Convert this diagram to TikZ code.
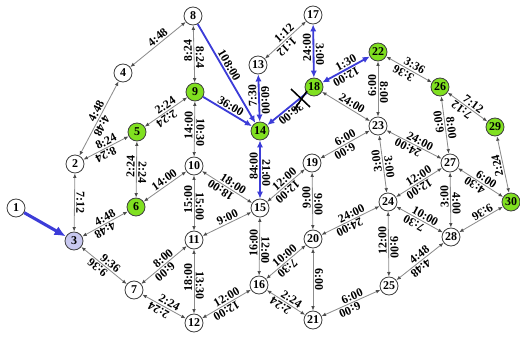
\documentclass[tikz,border=0pt]{standalone}
\usepackage{fontspec}
\setmainfont{Liberation Serif}
\usepackage{tikz}
\usetikzlibrary{arrows.meta}
\definecolor{hexcolor0x80e020}{rgb}{0.502,0.878,0.125}
\definecolor{hexcolor0xc8c8f0}{rgb}{0.784,0.784,0.941}
\definecolor{hexcolor0x3c3cd8}{rgb}{0.235,0.235,0.847}
\definecolor{hexcolor0x8c8c8c}{rgb}{0.549,0.549,0.549}
\definecolor{myblack}{rgb}{0.000,0.000,0.000}
\definecolor{mywhite}{rgb}{1.000,1.000,1.000}
\tikzstyle{stop}=[circle,fill=mywhite,draw=myblack!75,line width=0.6pt,minimum size=0.45cm,inner sep=0pt,font=\fontsize{8.5}{9}\selectfont\bfseries]
\tikzstyle{hub}=[stop,fill=hexcolor0x80e020]
\tikzstyle{origin}=[stop,fill=hexcolor0xc8c8f0]
\tikzstyle{road}=[draw=hexcolor0x8c8c8c,line width=0.6pt,<->,>={Latex[length=3.2pt,width=2.6pt,color=myblack!70]}]
\tikzstyle{route}=[draw=hexcolor0x3c3cd8,line width=1.3pt,>={Latex[length=5pt,width=4.5pt]}]
\tikzstyle{tfwd}=[above,sloped,allow upside down,pos=0.56,inner sep=1pt,font=\fontsize{8.5}{9}\selectfont\bfseries]
\tikzstyle{trev}=[tfwd,rotate=180,pos=0.44]

\begin{document}
\begin{tikzpicture}[x=0.025cm,y=-0.025cm]
	\useasboundingbox (0,0) rectangle (520,338);
	%\begin{pgfonlayer}{nodelayer}
		\node [style=stop] (1) at (16, 208) {1};
		\node [style=stop] (2) at (75, 164) {2};
		\node [style=origin] (3) at (74, 241) {3};
		\node [style=stop] (4) at (123, 73) {4};
		\node [style=hub] (5) at (137, 132) {5};
		\node [style=hub] (6) at (136, 207) {6};
		\node [style=stop] (7) at (134, 290) {7};
		\node [style=stop] (8) at (193, 16) {8};
		\node [style=hub] (9) at (195, 92) {9};
		\node [style=stop] (10) at (194, 166) {10};
		\node [style=stop] (11) at (194, 240) {11};
		\node [style=stop] (12) at (194, 323) {12};
		\node [style=stop] (13) at (258, 65) {13};
		\node [style=hub] (14) at (260, 131) {14};
		\node [style=stop] (15) at (260, 208) {15};
		\node [style=stop] (16) at (259, 285) {16};
		\node [style=stop] (17) at (313, 15) {17};
		\node [style=hub] (18) at (314, 87) {18};
		\node [style=stop] (19) at (312, 163) {19};
		\node [style=stop] (20) at (313, 239) {20};
		\node [style=stop] (21) at (313, 320) {21};
		\node [style=hub] (22) at (378, 52) {22};
		\node [style=stop] (23) at (378, 126) {23};
		\node [style=stop] (24) at (388, 202) {24};
		\node [style=stop] (25) at (389, 286) {25};
		\node [style=hub] (26) at (440, 87) {26};
		\node [style=stop] (27) at (450, 163) {27};
		\node [style=stop] (28) at (451, 237) {28};
		\node [style=hub] (29) at (495, 127) {29};
		\node [style=hub] (30) at (511, 202) {30};
		\coordinate (cut) at (300, 99);
	%\end{pgfonlayer}
	%\begin{pgfonlayer}{edgelayer}
		\draw [style=road] (3) to node [style=trev,pos=0.5] {7:12} (2);
		\draw [style=road] (2) to node [style=tfwd] {4:48} node [style=trev] {4:48} (4);
		\draw [style=road] (4) to node [style=tfwd] {4:48} (8);
		\draw [style=road] (2) to node [style=tfwd] {8:24} node [style=trev] {8:24} (5);
		\draw [style=road] (5) to node [style=tfwd] {2:24} node [style=trev] {2:24} (9);
		\draw [style=road] (6) to node [style=tfwd] {2:24} node [style=trev] {2:24} (5);
		\draw [style=road] (3) to node [style=tfwd] {4:48} node [style=trev] {4:48} (6);
		\draw [style=road] (6) to node [style=tfwd] {14:00} (10);
		\draw [style=road] (3) to node [style=tfwd] {9:36} node [style=trev] {9:36} (7);
		\draw [style=road] (7) to node [style=tfwd] {8:00} node [style=trev] {6:00} (11);
		\draw [style=road] (7) to node [style=tfwd] {2:24} node [style=trev] {2:24} (12);
		\draw [style=road] (9) to node [style=tfwd] {8:24} node [style=trev] {8:24} (8);
		\draw [style=road] (10) to node [style=tfwd] {14:00} node [style=trev] {10:30} (9);
		\draw [style=road] (11) to node [style=tfwd] {15:00} node [style=trev] {15:00} (10);
		\draw [style=road] (12) to node [style=tfwd] {18:00} node [style=trev] {13:30} (11);
		\draw [style=road] (10) to node [style=tfwd] {18:00} node [style=trev] {18:00} (15);
		\draw [style=road] (11) to node [style=tfwd] {9:00} (15);
		\draw [style=road] (12) to node [style=tfwd] {12:00} node [style=trev] {12:00} (16);
		\draw [style=road] (13) to node [style=tfwd] {1:12} node [style=trev] {1:12} (17);
		\draw [style=road] (18) to node [style=tfwd] {24:00} (23);
		\draw [style=road] (23) to node [style=tfwd] {6:00} node [style=trev] {8:00} (22);
		\draw [style=road] (22) to node [style=tfwd] {3:36} node [style=trev] {3:36} (26);
		\draw [style=road] (26) to node [style=tfwd] {7:12} node [style=trev] {7:12} (29);
		\draw [style=road] (27) to node [style=tfwd] {6:00} node [style=trev] {8:00} (26);
		\draw [style=road] (19) to node [style=tfwd] {6:00} node [style=trev] {6:00} (23);
		\draw [style=road] (23) to node [style=tfwd] {24:00} node [style=trev] {24:00} (27);
		\draw [style=road] (24) to node [style=tfwd] {3:00} node [style=trev] {3:00} (23);
		\draw [style=road] (15) to node [style=tfwd] {12:00} node [style=trev] {12:00} (19);
		\draw [style=road] (20) to node [style=tfwd] {9:00} node [style=trev] {9:00} (19);
		\draw [style=road] (16) to node [style=tfwd] {16:00} node [style=trev] {12:00} (15);
		\draw [style=road] (16) to node [style=tfwd] {10:00} node [style=trev] {7:30} (20);
		\draw [style=road] (16) to node [style=tfwd] {2:24} node [style=trev] {2:24} (21);
		\draw [style=road] (21) to node [style=trev,pos=0.5] {6:00} (20);
		\draw [style=road] (20) to node [style=tfwd] {24:00} node [style=trev] {24:00} (24);
		\draw [style=road] (21) to node [style=tfwd] {6:00} node [style=trev] {6:00} (25);
		\draw [style=road] (25) to node [style=tfwd] {12:00} node [style=trev] {9:00} (24);
		\draw [style=road] (24) to node [style=tfwd] {12:00} node [style=trev] {12:00} (27);
		\draw [style=road] (24) to node [style=tfwd] {10:00} node [style=trev] {7:30} (28);
		\draw [style=road] (25) to node [style=tfwd] {4:48} node [style=trev] {4:48} (28);
		\draw [style=road] (28) to node [style=tfwd] {3:00} node [style=trev] {4:00} (27);
		\draw [style=road] (27) to node [style=tfwd] {6:00} node [style=trev] {4:30} (30);
		\draw [style=road] (28) to node [style=trev,below,pos=0.6] {9:36} (30);
		\draw [style=road] (30) to node [style=tfwd,pos=0.5] {2:24} (29);
		% shortest route
		\draw [style=route,line width=2.2pt,-{Latex[length=8pt,width=7pt]}] (1) to (3);
		\draw [style=route,->] (8) to node [style=tfwd,pos=0.45] {108:00} (14);
		\draw [style=route,->] (9) to node [style=tfwd,pos=0.5] {36:00} (14);
		\draw [style=route,<-] (14) to node [style=trev,pos=0.5] {36:00} (18);
		\draw [style=route,<->] (14) to node [style=tfwd] {7:30} node [style=trev] {60:00} (13);
		\draw [style=route,<->] (18) to node [style=tfwd] {24:00} node [style=trev] {3:00} (17);
		\draw [style=route,<->] (15) to node [style=tfwd] {84:00} node [style=trev] {21:00} (14);
		\draw [style=route,<->] (18) to node [style=tfwd] {1:30} node [style=trev] {12:00} (22);
		% blocked link
		\draw [line width=1.1pt,draw=myblack] (cut) +(-9,-10) -- +(10,8);
		\draw [line width=1.1pt,draw=myblack] (cut) +(-6,11) -- +(7,-8);
	%\end{pgfonlayer}
\end{tikzpicture}
\end{document}
